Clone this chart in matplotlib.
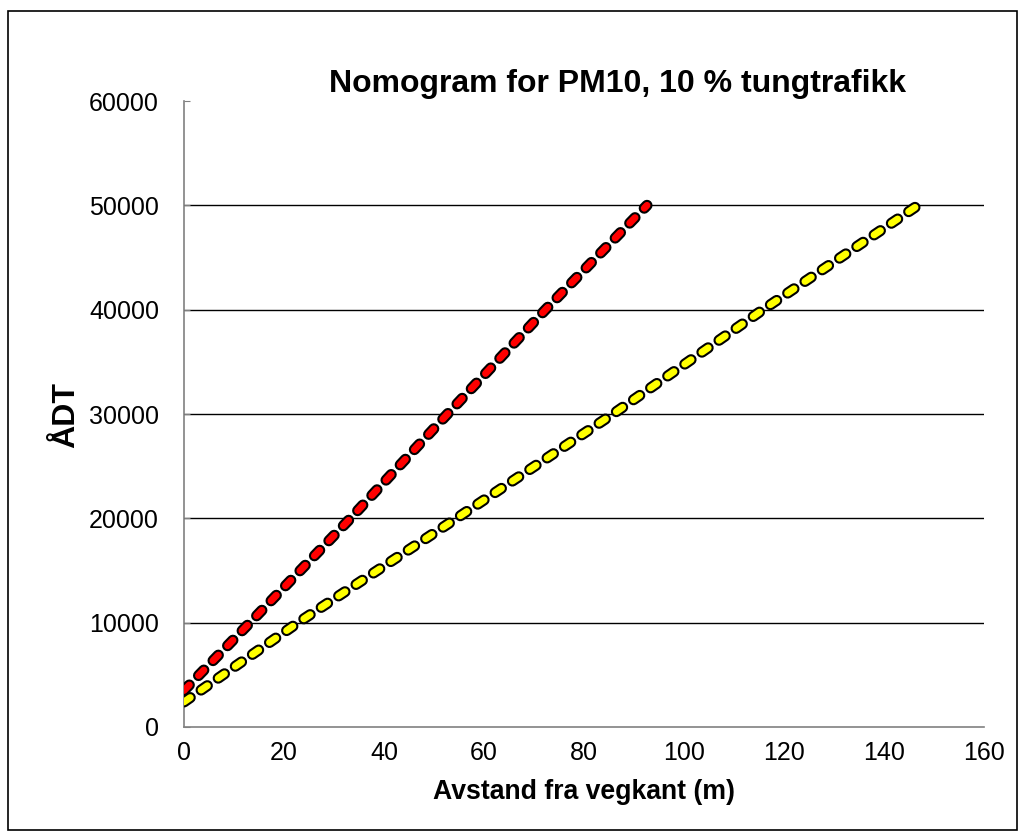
import matplotlib
matplotlib.use("Agg")
import matplotlib.pyplot as plt
import matplotlib.patheffects as pe
from matplotlib.patches import Rectangle

plt.rcParams['font.family'] = ['Liberation Sans', 'DejaVu Sans']
plt.rcParams['lines.scale_dashes'] = False

# data
adt_red = [3500, 10000, 20000, 30000, 40000, 50000]
dist_red = [0, 13.2, 33.3, 52.7, 72.3, 92.6]
adt_yellow = [2400, 10000, 20000, 30000, 40000, 50000]
dist_yellow = [0, 22.8, 54.5, 85.8, 115.8, 146.8]

y_ticks = [0, 10000, 20000, 30000, 40000, 50000, 60000]
x_ticks = [0, 20, 40, 60, 80, 100, 120, 140, 160]

fig = plt.figure(figsize=(10.25, 8.39), dpi=100)
ax = fig.add_axes([0.1795, 0.1335, 0.7805, 0.7461])

# outer chart border
fig.patches.append(Rectangle((0.008, 0.011), 0.984, 0.976, transform=fig.transFigure,
                             fill=False, edgecolor='black', linewidth=1.2))

# gridlines (none at the top value)
for t in y_ticks[1:-1]:
    ax.axhline(t, color='black', linewidth=1, zorder=1)

outline = [pe.Stroke(linewidth=8, foreground='black'), pe.Normal()]
for xs, ys, col in [(dist_red, adt_red, 'red'), (dist_yellow, adt_yellow, 'yellow')]:
    line, = ax.plot(xs, ys, color=col, linewidth=5, solid_capstyle='round',
                    dash_capstyle='round', zorder=3)
    line.set_dashes((5.5, 9.5))
    line.set_path_effects(outline)

ax.set_xlim(0, 160)
ax.set_ylim(0, 60000)
ax.set_xticks(x_ticks)
ax.set_yticks(y_ticks)
ax.tick_params(axis='x', length=0, labelsize=18, pad=10)
ax.tick_params(axis='y', length=4, direction='in', color='#808080', labelsize=18, pad=18)

for s in ['top', 'right']:
    ax.spines[s].set_visible(False)
for s in ['left', 'bottom']:
    ax.spines[s].set_color('#808080')
    ax.spines[s].set_linewidth(1.2)

ax.set_xlabel('Avstand fra vegkant (m)', fontsize=19.2, fontweight='bold', labelpad=10)
fig.text(66 / 1025, 1 - 415 / 839, 'ÅDT', fontsize=23, fontweight='bold',
         rotation=90, ha='center', va='center')
fig.text(0.602, 0.9, 'Nomogram for PM10, 10 % tungtrafikk', fontsize=23,
         fontweight='bold', ha='center', va='center')

fig.savefig('out.png', dpi=100)
